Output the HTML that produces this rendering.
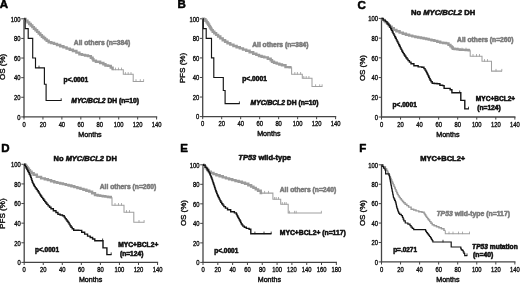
<!DOCTYPE html>
<html><head><meta charset="utf-8"><style>
html,body{margin:0;padding:0;background:#fff;}
body{width:520px;height:283px;overflow:hidden;}
svg{display:block;font-family:"Liberation Sans", sans-serif;filter:blur(0.4px);}
text{stroke-width:0.35px;stroke-linejoin:round;}
text[font-weight=bold]{stroke-width:0.55px;}
</style></head><body>
<svg width="520" height="283" viewBox="0 0 520 283">
<rect width="520" height="283" fill="#fff"/>
<text x="-0.3" y="8.4" font-size="11.5" font-weight="bold" fill="#000" stroke="#000">A</text>
<text x="177.4" y="8.3" font-size="11.5" font-weight="bold" fill="#000" stroke="#000">B</text>
<text x="357.5" y="8.6" font-size="11.5" font-weight="bold" fill="#000" stroke="#000">C</text>
<text x="1.2" y="151.6" font-size="11.5" font-weight="bold" fill="#000" stroke="#000">D</text>
<text x="180.3" y="151.6" font-size="11.5" font-weight="bold" fill="#000" stroke="#000">E</text>
<text x="359.3" y="151.8" font-size="11.5" font-weight="bold" fill="#000" stroke="#000">F</text>
<line x1="24.0" y1="18.400000000000002" x2="24.0" y2="117.5" stroke="#444" stroke-width="1.3"/>
<line x1="23.4" y1="116.9" x2="157.2" y2="116.9" stroke="#444" stroke-width="1.3"/>
<line x1="21.2" y1="116.90" x2="24.0" y2="116.90" stroke="#444" stroke-width="1"/>
<text x="20.60" y="119.65" text-anchor="end" font-size="6.5" fill="#111" stroke="#111" textLength="3.25" lengthAdjust="spacingAndGlyphs">0</text>
<line x1="21.2" y1="97.28" x2="24.0" y2="97.28" stroke="#444" stroke-width="1"/>
<text x="20.60" y="100.03" text-anchor="end" font-size="6.5" fill="#111" stroke="#111" textLength="6.50" lengthAdjust="spacingAndGlyphs">20</text>
<line x1="21.2" y1="77.66" x2="24.0" y2="77.66" stroke="#444" stroke-width="1"/>
<text x="20.60" y="80.41" text-anchor="end" font-size="6.5" fill="#111" stroke="#111" textLength="6.50" lengthAdjust="spacingAndGlyphs">40</text>
<line x1="21.2" y1="58.04" x2="24.0" y2="58.04" stroke="#444" stroke-width="1"/>
<text x="20.60" y="60.79" text-anchor="end" font-size="6.5" fill="#111" stroke="#111" textLength="6.50" lengthAdjust="spacingAndGlyphs">60</text>
<line x1="21.2" y1="38.42" x2="24.0" y2="38.42" stroke="#444" stroke-width="1"/>
<text x="20.60" y="41.17" text-anchor="end" font-size="6.5" fill="#111" stroke="#111" textLength="6.50" lengthAdjust="spacingAndGlyphs">80</text>
<line x1="21.2" y1="18.80" x2="24.0" y2="18.80" stroke="#444" stroke-width="1"/>
<text x="20.60" y="21.55" text-anchor="end" font-size="6.5" fill="#111" stroke="#111" textLength="9.75" lengthAdjust="spacingAndGlyphs">100</text>
<line x1="24.00" y1="116.9" x2="24.00" y2="119.5" stroke="#444" stroke-width="1"/>
<text x="24.00" y="126.60" text-anchor="middle" font-size="6.5" fill="#111" stroke="#111" textLength="3.25" lengthAdjust="spacingAndGlyphs">0</text>
<line x1="42.94" y1="116.9" x2="42.94" y2="119.5" stroke="#444" stroke-width="1"/>
<text x="42.94" y="126.60" text-anchor="middle" font-size="6.5" fill="#111" stroke="#111" textLength="6.50" lengthAdjust="spacingAndGlyphs">20</text>
<line x1="61.89" y1="116.9" x2="61.89" y2="119.5" stroke="#444" stroke-width="1"/>
<text x="61.89" y="126.60" text-anchor="middle" font-size="6.5" fill="#111" stroke="#111" textLength="6.50" lengthAdjust="spacingAndGlyphs">40</text>
<line x1="80.83" y1="116.9" x2="80.83" y2="119.5" stroke="#444" stroke-width="1"/>
<text x="80.83" y="126.60" text-anchor="middle" font-size="6.5" fill="#111" stroke="#111" textLength="6.50" lengthAdjust="spacingAndGlyphs">60</text>
<line x1="99.77" y1="116.9" x2="99.77" y2="119.5" stroke="#444" stroke-width="1"/>
<text x="99.77" y="126.60" text-anchor="middle" font-size="6.5" fill="#111" stroke="#111" textLength="6.50" lengthAdjust="spacingAndGlyphs">80</text>
<line x1="118.71" y1="116.9" x2="118.71" y2="119.5" stroke="#444" stroke-width="1"/>
<text x="118.71" y="126.60" text-anchor="middle" font-size="6.5" fill="#111" stroke="#111" textLength="9.75" lengthAdjust="spacingAndGlyphs">100</text>
<line x1="137.66" y1="116.9" x2="137.66" y2="119.5" stroke="#444" stroke-width="1"/>
<text x="137.66" y="126.60" text-anchor="middle" font-size="6.5" fill="#111" stroke="#111" textLength="9.75" lengthAdjust="spacingAndGlyphs">120</text>
<line x1="156.60" y1="116.9" x2="156.60" y2="119.5" stroke="#444" stroke-width="1"/>
<text x="156.60" y="126.60" text-anchor="middle" font-size="6.5" fill="#111" stroke="#111" textLength="9.75" lengthAdjust="spacingAndGlyphs">140</text>
<text x="90.00" y="136.70" text-anchor="middle" font-size="7.1" fill="#111" stroke="#111" style="stroke-width:0.42px">Months</text>
<text transform="translate(5.40,66.90) rotate(-90)" text-anchor="middle" font-size="7.4" style="stroke-width:0.38px" fill="#111" stroke="#111" textLength="26.0" lengthAdjust="spacingAndGlyphs">OS (%)</text>
<path d="M24.00,18.80H24.30V18.90H24.60H25.55V20.65H27.45V22.40H28.40H29.18V23.97H30.75V25.53H32.32V27.10H33.10H33.90V28.70H35.50V30.30H37.10V31.90H37.90H38.70V33.50H40.30V35.10H41.90V36.70H42.70H43.50V38.03H45.10V39.37H46.70V40.70H47.50H48.70V42.20H49.90H51.27V43.05H54.02V43.90H55.40H57.00V45.05H60.20V46.20H61.80H63.40V47.40H66.60V48.60H68.20H69.78V49.80H72.92V51.00H74.50H76.40V52.60H78.30H79.40V54.30H80.50H82.00V54.90H85.00V55.50H88.00V56.10H89.50H90.85V57.70H92.20H92.60V59.15H93.40V60.60H93.80H95.90V61.80H98.00H100.15V63.00H102.30H103.35V64.25H105.45V65.50H106.50H108.10V65.90H109.70H110.75V67.60H111.80H112.60V69.00H113.40" fill="none" stroke="#9b9b9b" stroke-width="2.4" stroke-linejoin="miter" stroke-linecap="butt"/><path d="M113.40,69.00V69.80H123.30V74.30H133.20V81.40H143.80" fill="none" stroke="#a0a0a0" stroke-width="1.05" stroke-linejoin="miter" stroke-linecap="butt"/>
<path d="M24.0,18.8 H25.2 V28.61 H28.2 V38.42 H32.7 V58.04 H35.5 V67.85 H44.4 V84.23 H46.1 V100.52 H61.5" fill="none" stroke="#141414" stroke-width="1.15" stroke-linejoin="miter" stroke-linecap="butt"/>
<line x1="115.50" y1="67.60" x2="115.50" y2="70.10" stroke="#9b9b9b" stroke-width="0.8"/><line x1="118.50" y1="67.60" x2="118.50" y2="70.10" stroke="#9b9b9b" stroke-width="0.8"/><line x1="121.50" y1="67.60" x2="121.50" y2="70.10" stroke="#9b9b9b" stroke-width="0.8"/>
<line x1="125.40" y1="72.10" x2="125.40" y2="74.60" stroke="#9b9b9b" stroke-width="0.8"/><line x1="128.20" y1="72.10" x2="128.20" y2="74.60" stroke="#9b9b9b" stroke-width="0.8"/><line x1="131.00" y1="72.10" x2="131.00" y2="74.60" stroke="#9b9b9b" stroke-width="0.8"/>
<line x1="136.00" y1="79.20" x2="136.00" y2="81.70" stroke="#9b9b9b" stroke-width="0.8"/><line x1="140.30" y1="79.20" x2="140.30" y2="81.70" stroke="#9b9b9b" stroke-width="0.8"/><line x1="143.60" y1="79.20" x2="143.60" y2="81.70" stroke="#9b9b9b" stroke-width="0.8"/>
<line x1="39.00" y1="65.65" x2="39.00" y2="68.15" stroke="#141414" stroke-width="0.8"/>
<line x1="61.20" y1="98.30" x2="61.20" y2="100.80" stroke="#141414" stroke-width="0.8"/>
<text x="73.80" y="44.65" font-size="6.8" font-weight="bold" fill="#7c7c7c" stroke="#7c7c7c" text-anchor="start" textLength="56.4" lengthAdjust="spacingAndGlyphs">All others (n=384)</text>
<text x="63.60" y="81.50" font-size="6.8" font-weight="bold" fill="#111" stroke="#111" text-anchor="start" textLength="24.6" lengthAdjust="spacingAndGlyphs">p&lt;.0001</text>
<text x="71.30" y="102.95" font-size="6.8" font-weight="bold" fill="#111" stroke="#111" text-anchor="start" textLength="67.6" lengthAdjust="spacingAndGlyphs"><tspan font-style="italic">MYC/BCL2</tspan> DH (n=10)</text>
<line x1="202.7" y1="18.400000000000002" x2="202.7" y2="117.19999999999999" stroke="#444" stroke-width="1.3"/>
<line x1="202.1" y1="116.6" x2="336.20000000000005" y2="116.6" stroke="#444" stroke-width="1.3"/>
<line x1="199.89999999999998" y1="116.60" x2="202.7" y2="116.60" stroke="#444" stroke-width="1"/>
<text x="199.30" y="119.35" text-anchor="end" font-size="6.5" fill="#111" stroke="#111" textLength="3.25" lengthAdjust="spacingAndGlyphs">0</text>
<line x1="199.89999999999998" y1="97.04" x2="202.7" y2="97.04" stroke="#444" stroke-width="1"/>
<text x="199.30" y="99.79" text-anchor="end" font-size="6.5" fill="#111" stroke="#111" textLength="6.50" lengthAdjust="spacingAndGlyphs">20</text>
<line x1="199.89999999999998" y1="77.48" x2="202.7" y2="77.48" stroke="#444" stroke-width="1"/>
<text x="199.30" y="80.23" text-anchor="end" font-size="6.5" fill="#111" stroke="#111" textLength="6.50" lengthAdjust="spacingAndGlyphs">40</text>
<line x1="199.89999999999998" y1="57.92" x2="202.7" y2="57.92" stroke="#444" stroke-width="1"/>
<text x="199.30" y="60.67" text-anchor="end" font-size="6.5" fill="#111" stroke="#111" textLength="6.50" lengthAdjust="spacingAndGlyphs">60</text>
<line x1="199.89999999999998" y1="38.36" x2="202.7" y2="38.36" stroke="#444" stroke-width="1"/>
<text x="199.30" y="41.11" text-anchor="end" font-size="6.5" fill="#111" stroke="#111" textLength="6.50" lengthAdjust="spacingAndGlyphs">80</text>
<line x1="199.89999999999998" y1="18.80" x2="202.7" y2="18.80" stroke="#444" stroke-width="1"/>
<text x="199.30" y="21.55" text-anchor="end" font-size="6.5" fill="#111" stroke="#111" textLength="9.75" lengthAdjust="spacingAndGlyphs">100</text>
<line x1="202.70" y1="116.6" x2="202.70" y2="119.19999999999999" stroke="#444" stroke-width="1"/>
<text x="202.70" y="126.30" text-anchor="middle" font-size="6.5" fill="#111" stroke="#111" textLength="3.25" lengthAdjust="spacingAndGlyphs">0</text>
<line x1="221.69" y1="116.6" x2="221.69" y2="119.19999999999999" stroke="#444" stroke-width="1"/>
<text x="221.69" y="126.30" text-anchor="middle" font-size="6.5" fill="#111" stroke="#111" textLength="6.50" lengthAdjust="spacingAndGlyphs">20</text>
<line x1="240.67" y1="116.6" x2="240.67" y2="119.19999999999999" stroke="#444" stroke-width="1"/>
<text x="240.67" y="126.30" text-anchor="middle" font-size="6.5" fill="#111" stroke="#111" textLength="6.50" lengthAdjust="spacingAndGlyphs">40</text>
<line x1="259.66" y1="116.6" x2="259.66" y2="119.19999999999999" stroke="#444" stroke-width="1"/>
<text x="259.66" y="126.30" text-anchor="middle" font-size="6.5" fill="#111" stroke="#111" textLength="6.50" lengthAdjust="spacingAndGlyphs">60</text>
<line x1="278.64" y1="116.6" x2="278.64" y2="119.19999999999999" stroke="#444" stroke-width="1"/>
<text x="278.64" y="126.30" text-anchor="middle" font-size="6.5" fill="#111" stroke="#111" textLength="6.50" lengthAdjust="spacingAndGlyphs">80</text>
<line x1="297.63" y1="116.6" x2="297.63" y2="119.19999999999999" stroke="#444" stroke-width="1"/>
<text x="297.63" y="126.30" text-anchor="middle" font-size="6.5" fill="#111" stroke="#111" textLength="9.75" lengthAdjust="spacingAndGlyphs">100</text>
<line x1="316.61" y1="116.6" x2="316.61" y2="119.19999999999999" stroke="#444" stroke-width="1"/>
<text x="316.61" y="126.30" text-anchor="middle" font-size="6.5" fill="#111" stroke="#111" textLength="9.75" lengthAdjust="spacingAndGlyphs">120</text>
<line x1="335.60" y1="116.6" x2="335.60" y2="119.19999999999999" stroke="#444" stroke-width="1"/>
<text x="335.60" y="126.30" text-anchor="middle" font-size="6.5" fill="#111" stroke="#111" textLength="9.75" lengthAdjust="spacingAndGlyphs">140</text>
<text x="268.85" y="136.40" text-anchor="middle" font-size="7.1" fill="#111" stroke="#111" style="stroke-width:0.42px">Months</text>
<text transform="translate(185.30,68.05) rotate(-90)" text-anchor="middle" font-size="7.4" style="stroke-width:0.38px" fill="#111" stroke="#111" textLength="30.6" lengthAdjust="spacingAndGlyphs">PFS (%)</text>
<path d="M202.70,18.80H202.95V18.60H203.20H204.00V19.30H204.80H205.40V20.75H206.60V22.20H207.20H207.60V23.50H208.40V24.80H209.20V26.10H209.60H209.98V27.43H210.75V28.77H211.52V30.10H211.90H212.70V31.70H214.30V33.30H215.10H216.10V34.90H218.10V36.50H219.10H220.30V38.35H222.70V40.20H223.90H225.10V41.75H227.50V43.30H228.70H230.27V44.65H233.43V46.00H235.00H236.60V47.20H239.80V48.40H241.40H243.00V49.60H246.20V50.80H247.80H249.60V52.30H253.20V53.80H255.00H256.32V54.90H258.98V56.00H260.30H261.62V56.70H264.28V57.40H265.60H267.80V58.80H270.00H270.68V60.30H272.02V61.80H272.70H274.02V62.70H276.68V63.60H278.00H279.32V64.45H281.98V65.30H283.30H285.50V67.10H287.70H289.65V67.30H291.60" fill="none" stroke="#9b9b9b" stroke-width="2.4" stroke-linejoin="miter" stroke-linecap="butt"/><path d="M291.60,67.30V74.20H302.30V78.20H312.00V86.50H322.30" fill="none" stroke="#a0a0a0" stroke-width="1.05" stroke-linejoin="miter" stroke-linecap="butt"/>
<path d="M202.7,18.8 H203.3 V28.58 H206.2 V38.36 H211.5 V57.92 H213.8 V77.48 H223.3 V90.49 H225.1 V103.59 H239.7" fill="none" stroke="#141414" stroke-width="1.15" stroke-linejoin="miter" stroke-linecap="butt"/>
<line x1="294.80" y1="72.00" x2="294.80" y2="74.50" stroke="#9b9b9b" stroke-width="0.8"/><line x1="297.40" y1="72.00" x2="297.40" y2="74.50" stroke="#9b9b9b" stroke-width="0.8"/><line x1="300.60" y1="72.00" x2="300.60" y2="74.50" stroke="#9b9b9b" stroke-width="0.8"/>
<line x1="303.80" y1="76.00" x2="303.80" y2="78.50" stroke="#9b9b9b" stroke-width="0.8"/><line x1="306.20" y1="76.00" x2="306.20" y2="78.50" stroke="#9b9b9b" stroke-width="0.8"/><line x1="308.90" y1="76.00" x2="308.90" y2="78.50" stroke="#9b9b9b" stroke-width="0.8"/>
<line x1="315.60" y1="84.30" x2="315.60" y2="86.80" stroke="#9b9b9b" stroke-width="0.8"/><line x1="319.70" y1="84.30" x2="319.70" y2="86.80" stroke="#9b9b9b" stroke-width="0.8"/><line x1="322.10" y1="84.30" x2="322.10" y2="86.80" stroke="#9b9b9b" stroke-width="0.8"/>
<line x1="239.40" y1="101.40" x2="239.40" y2="103.90" stroke="#141414" stroke-width="0.8"/>
<text x="252.20" y="46.95" font-size="6.8" font-weight="bold" fill="#7c7c7c" stroke="#7c7c7c" text-anchor="start" textLength="56.4" lengthAdjust="spacingAndGlyphs">All others (n=384)</text>
<text x="242.30" y="81.25" font-size="6.8" font-weight="bold" fill="#111" stroke="#111" text-anchor="start" textLength="24.6" lengthAdjust="spacingAndGlyphs">p&lt;.0001</text>
<text x="250.60" y="105.05" font-size="6.8" font-weight="bold" fill="#111" stroke="#111" text-anchor="start" textLength="67.8" lengthAdjust="spacingAndGlyphs"><tspan font-style="italic">MYC/BCL2</tspan> DH (n=10)</text>
<line x1="381.5" y1="18.0" x2="381.5" y2="117.6" stroke="#444" stroke-width="1.3"/>
<line x1="380.9" y1="117.0" x2="515.45" y2="117.0" stroke="#444" stroke-width="1.3"/>
<line x1="378.7" y1="117.00" x2="381.5" y2="117.00" stroke="#444" stroke-width="1"/>
<text x="378.10" y="119.75" text-anchor="end" font-size="6.5" fill="#111" stroke="#111" textLength="3.25" lengthAdjust="spacingAndGlyphs">0</text>
<line x1="378.7" y1="97.28" x2="381.5" y2="97.28" stroke="#444" stroke-width="1"/>
<text x="378.10" y="100.03" text-anchor="end" font-size="6.5" fill="#111" stroke="#111" textLength="6.50" lengthAdjust="spacingAndGlyphs">20</text>
<line x1="378.7" y1="77.56" x2="381.5" y2="77.56" stroke="#444" stroke-width="1"/>
<text x="378.10" y="80.31" text-anchor="end" font-size="6.5" fill="#111" stroke="#111" textLength="6.50" lengthAdjust="spacingAndGlyphs">40</text>
<line x1="378.7" y1="57.84" x2="381.5" y2="57.84" stroke="#444" stroke-width="1"/>
<text x="378.10" y="60.59" text-anchor="end" font-size="6.5" fill="#111" stroke="#111" textLength="6.50" lengthAdjust="spacingAndGlyphs">60</text>
<line x1="378.7" y1="38.12" x2="381.5" y2="38.12" stroke="#444" stroke-width="1"/>
<text x="378.10" y="40.87" text-anchor="end" font-size="6.5" fill="#111" stroke="#111" textLength="6.50" lengthAdjust="spacingAndGlyphs">80</text>
<line x1="378.7" y1="18.40" x2="381.5" y2="18.40" stroke="#444" stroke-width="1"/>
<text x="378.10" y="21.15" text-anchor="end" font-size="6.5" fill="#111" stroke="#111" textLength="9.75" lengthAdjust="spacingAndGlyphs">100</text>
<line x1="381.50" y1="117.0" x2="381.50" y2="119.6" stroke="#444" stroke-width="1"/>
<text x="381.50" y="126.70" text-anchor="middle" font-size="6.5" fill="#111" stroke="#111" textLength="3.25" lengthAdjust="spacingAndGlyphs">0</text>
<line x1="400.55" y1="117.0" x2="400.55" y2="119.6" stroke="#444" stroke-width="1"/>
<text x="400.55" y="126.70" text-anchor="middle" font-size="6.5" fill="#111" stroke="#111" textLength="6.50" lengthAdjust="spacingAndGlyphs">20</text>
<line x1="419.60" y1="117.0" x2="419.60" y2="119.6" stroke="#444" stroke-width="1"/>
<text x="419.60" y="126.70" text-anchor="middle" font-size="6.5" fill="#111" stroke="#111" textLength="6.50" lengthAdjust="spacingAndGlyphs">40</text>
<line x1="438.65" y1="117.0" x2="438.65" y2="119.6" stroke="#444" stroke-width="1"/>
<text x="438.65" y="126.70" text-anchor="middle" font-size="6.5" fill="#111" stroke="#111" textLength="6.50" lengthAdjust="spacingAndGlyphs">60</text>
<line x1="457.70" y1="117.0" x2="457.70" y2="119.6" stroke="#444" stroke-width="1"/>
<text x="457.70" y="126.70" text-anchor="middle" font-size="6.5" fill="#111" stroke="#111" textLength="6.50" lengthAdjust="spacingAndGlyphs">80</text>
<line x1="476.75" y1="117.0" x2="476.75" y2="119.6" stroke="#444" stroke-width="1"/>
<text x="476.75" y="126.70" text-anchor="middle" font-size="6.5" fill="#111" stroke="#111" textLength="9.75" lengthAdjust="spacingAndGlyphs">100</text>
<line x1="495.80" y1="117.0" x2="495.80" y2="119.6" stroke="#444" stroke-width="1"/>
<text x="495.80" y="126.70" text-anchor="middle" font-size="6.5" fill="#111" stroke="#111" textLength="9.75" lengthAdjust="spacingAndGlyphs">120</text>
<line x1="514.85" y1="117.0" x2="514.85" y2="119.6" stroke="#444" stroke-width="1"/>
<text x="514.85" y="126.70" text-anchor="middle" font-size="6.5" fill="#111" stroke="#111" textLength="9.75" lengthAdjust="spacingAndGlyphs">140</text>
<text x="447.88" y="136.80" text-anchor="middle" font-size="7.1" fill="#111" stroke="#111" style="stroke-width:0.42px">Months</text>
<text transform="translate(365.40,68.05) rotate(-90)" text-anchor="middle" font-size="7.4" style="stroke-width:0.38px" fill="#111" stroke="#111" textLength="26.0" lengthAdjust="spacingAndGlyphs">OS (%)</text>
<text x="443.10" y="14.89" font-size="7.6" font-weight="bold" fill="#111" stroke="#111" text-anchor="middle" textLength="64.2" lengthAdjust="spacingAndGlyphs">No <tspan font-style="italic">MYC/BCL2</tspan> DH</text>
<path d="M381.50,18.40H381.80V18.60H382.10H382.82V19.87H384.25V21.13H385.68V22.40H386.40H387.10V23.83H388.50V25.27H389.90V26.70H390.60H391.65V28.30H393.75V29.90H394.80H396.40V31.25H399.60V32.60H401.20H402.77V33.70H405.93V34.80H407.50H409.10V35.60H412.30V36.40H413.90H415.32V36.93H418.15V37.47H420.98V38.00H422.40H423.67V38.53H426.20V39.07H428.73V39.60H430.00H431.45V40.25H434.35V40.90H435.80H437.27V41.75H440.23V42.60H441.70H443.15V43.00H446.05V43.40H447.50H448.48V44.90H450.42V46.40H451.40H451.88V47.55H452.82V48.70H453.30H454.60V49.03H457.20V49.37H459.80V49.70H461.10H462.62V49.87H465.65V50.03H468.68V50.20H470.20" fill="none" stroke="#9b9b9b" stroke-width="2.4" stroke-linejoin="miter" stroke-linecap="butt"/><path d="M470.20,50.20V56.20H482.00V61.30H491.50V71.10H502.00" fill="none" stroke="#a0a0a0" stroke-width="1.05" stroke-linejoin="miter" stroke-linecap="butt"/>
<path d="M381.50,18.40H381.80V18.60H382.10H383.18V20.10H385.32V21.60H386.40H386.92V22.93H387.95V24.27H388.98V25.60H389.50H389.90V27.20H390.70V28.80H391.50V30.40H392.30V32.00H392.70H393.10V33.58H393.90V35.15H394.70V36.72H395.50V38.30H395.90H396.30V39.90H397.10V41.50H397.90V43.10H398.70V44.70H399.10H399.49V46.28H400.26V47.85H401.04V49.42H401.81V51.00H402.20H402.60V52.33H403.40V53.65H404.20V54.97H405.00V56.30H405.40H405.93V57.73H407.00V59.17H408.07V60.60H408.60H409.40V62.15H411.00V63.70H411.80H413.90V65.80H416.00H418.15V66.90H420.30H421.85V67.20H423.40H423.95V68.65H425.05V70.10H425.60H425.95V71.50H426.65V72.90H427.35V74.30H427.70H428.05V75.78H428.75V77.25H429.45V78.72H430.15V80.20H430.50H431.07V81.70H432.23V83.20H432.80H434.23V83.50H437.07V83.80H438.50H439.90V85.20H441.30H442.70V85.60H444.10V88.40H448.40H450.15V89.80H451.90V92.70H460.80V100.40H464.80V108.90H468.80" fill="none" stroke="#141414" stroke-width="1.4" stroke-linejoin="miter" stroke-linecap="butt"/>
<line x1="458.00" y1="47.70" x2="458.00" y2="50.20" stroke="#9b9b9b" stroke-width="0.8"/><line x1="462.00" y1="47.70" x2="462.00" y2="50.20" stroke="#9b9b9b" stroke-width="0.8"/><line x1="466.00" y1="47.70" x2="466.00" y2="50.20" stroke="#9b9b9b" stroke-width="0.8"/>
<line x1="473.00" y1="54.00" x2="473.00" y2="56.50" stroke="#9b9b9b" stroke-width="0.8"/><line x1="476.50" y1="54.00" x2="476.50" y2="56.50" stroke="#9b9b9b" stroke-width="0.8"/><line x1="479.50" y1="54.00" x2="479.50" y2="56.50" stroke="#9b9b9b" stroke-width="0.8"/>
<line x1="484.50" y1="59.10" x2="484.50" y2="61.60" stroke="#9b9b9b" stroke-width="0.8"/><line x1="487.50" y1="59.10" x2="487.50" y2="61.60" stroke="#9b9b9b" stroke-width="0.8"/>
<line x1="496.00" y1="68.90" x2="496.00" y2="71.40" stroke="#9b9b9b" stroke-width="0.8"/><line x1="501.80" y1="68.90" x2="501.80" y2="71.40" stroke="#9b9b9b" stroke-width="0.8"/>
<line x1="459.70" y1="90.50" x2="459.70" y2="93.00" stroke="#141414" stroke-width="0.8"/>
<line x1="468.50" y1="106.70" x2="468.50" y2="109.20" stroke="#141414" stroke-width="0.8"/>
<text x="457.10" y="41.75" font-size="6.8" font-weight="bold" fill="#7c7c7c" stroke="#7c7c7c" text-anchor="start" textLength="56.4" lengthAdjust="spacingAndGlyphs">All others (n=260)</text>
<text x="392.60" y="106.95" font-size="6.8" font-weight="bold" fill="#111" stroke="#111" text-anchor="start" textLength="24.2" lengthAdjust="spacingAndGlyphs">p&lt;.0001</text>
<text x="475.80" y="101.45" font-size="6.8" font-weight="bold" fill="#111" stroke="#111" text-anchor="start" textLength="39.4" lengthAdjust="spacingAndGlyphs">MYC+BCL2+</text>
<text x="477.20" y="110.05" font-size="6.8" font-weight="bold" fill="#111" stroke="#111" text-anchor="start" textLength="23.6" lengthAdjust="spacingAndGlyphs">(n=124)</text>
<line x1="24.2" y1="163.9" x2="24.2" y2="263.0" stroke="#444" stroke-width="1.3"/>
<line x1="23.599999999999998" y1="262.4" x2="158.14999999999998" y2="262.4" stroke="#444" stroke-width="1.3"/>
<line x1="21.4" y1="262.40" x2="24.2" y2="262.40" stroke="#444" stroke-width="1"/>
<text x="20.80" y="265.15" text-anchor="end" font-size="6.5" fill="#111" stroke="#111" textLength="3.25" lengthAdjust="spacingAndGlyphs">0</text>
<line x1="21.4" y1="242.78" x2="24.2" y2="242.78" stroke="#444" stroke-width="1"/>
<text x="20.80" y="245.53" text-anchor="end" font-size="6.5" fill="#111" stroke="#111" textLength="6.50" lengthAdjust="spacingAndGlyphs">20</text>
<line x1="21.4" y1="223.16" x2="24.2" y2="223.16" stroke="#444" stroke-width="1"/>
<text x="20.80" y="225.91" text-anchor="end" font-size="6.5" fill="#111" stroke="#111" textLength="6.50" lengthAdjust="spacingAndGlyphs">40</text>
<line x1="21.4" y1="203.54" x2="24.2" y2="203.54" stroke="#444" stroke-width="1"/>
<text x="20.80" y="206.29" text-anchor="end" font-size="6.5" fill="#111" stroke="#111" textLength="6.50" lengthAdjust="spacingAndGlyphs">60</text>
<line x1="21.4" y1="183.92" x2="24.2" y2="183.92" stroke="#444" stroke-width="1"/>
<text x="20.80" y="186.67" text-anchor="end" font-size="6.5" fill="#111" stroke="#111" textLength="6.50" lengthAdjust="spacingAndGlyphs">80</text>
<line x1="21.4" y1="164.30" x2="24.2" y2="164.30" stroke="#444" stroke-width="1"/>
<text x="20.80" y="167.05" text-anchor="end" font-size="6.5" fill="#111" stroke="#111" textLength="9.75" lengthAdjust="spacingAndGlyphs">100</text>
<line x1="24.20" y1="262.4" x2="24.20" y2="265.0" stroke="#444" stroke-width="1"/>
<text x="24.20" y="272.10" text-anchor="middle" font-size="6.5" fill="#111" stroke="#111" textLength="3.25" lengthAdjust="spacingAndGlyphs">0</text>
<line x1="43.25" y1="262.4" x2="43.25" y2="265.0" stroke="#444" stroke-width="1"/>
<text x="43.25" y="272.10" text-anchor="middle" font-size="6.5" fill="#111" stroke="#111" textLength="6.50" lengthAdjust="spacingAndGlyphs">20</text>
<line x1="62.30" y1="262.4" x2="62.30" y2="265.0" stroke="#444" stroke-width="1"/>
<text x="62.30" y="272.10" text-anchor="middle" font-size="6.5" fill="#111" stroke="#111" textLength="6.50" lengthAdjust="spacingAndGlyphs">40</text>
<line x1="81.35" y1="262.4" x2="81.35" y2="265.0" stroke="#444" stroke-width="1"/>
<text x="81.35" y="272.10" text-anchor="middle" font-size="6.5" fill="#111" stroke="#111" textLength="6.50" lengthAdjust="spacingAndGlyphs">60</text>
<line x1="100.40" y1="262.4" x2="100.40" y2="265.0" stroke="#444" stroke-width="1"/>
<text x="100.40" y="272.10" text-anchor="middle" font-size="6.5" fill="#111" stroke="#111" textLength="6.50" lengthAdjust="spacingAndGlyphs">80</text>
<line x1="119.45" y1="262.4" x2="119.45" y2="265.0" stroke="#444" stroke-width="1"/>
<text x="119.45" y="272.10" text-anchor="middle" font-size="6.5" fill="#111" stroke="#111" textLength="9.75" lengthAdjust="spacingAndGlyphs">100</text>
<line x1="138.50" y1="262.4" x2="138.50" y2="265.0" stroke="#444" stroke-width="1"/>
<text x="138.50" y="272.10" text-anchor="middle" font-size="6.5" fill="#111" stroke="#111" textLength="9.75" lengthAdjust="spacingAndGlyphs">120</text>
<line x1="157.55" y1="262.4" x2="157.55" y2="265.0" stroke="#444" stroke-width="1"/>
<text x="157.55" y="272.10" text-anchor="middle" font-size="6.5" fill="#111" stroke="#111" textLength="9.75" lengthAdjust="spacingAndGlyphs">140</text>
<text x="90.58" y="282.20" text-anchor="middle" font-size="7.1" fill="#111" stroke="#111" style="stroke-width:0.42px">Months</text>
<text transform="translate(5.30,213.60) rotate(-90)" text-anchor="middle" font-size="7.4" style="stroke-width:0.38px" fill="#111" stroke="#111" textLength="30.6" lengthAdjust="spacingAndGlyphs">PFS (%)</text>
<text x="85.20" y="161.09" font-size="7.6" font-weight="bold" fill="#111" stroke="#111" text-anchor="middle" textLength="63.2" lengthAdjust="spacingAndGlyphs">No <tspan font-style="italic">MYC/BCL2</tspan> DH</text>
<path d="M24.20,164.30H24.60V164.60H25.00H25.57V166.00H26.73V167.40H27.30H27.83V168.80H28.90V170.20H29.97V171.60H30.50H31.55V173.20H33.65V174.80H34.70H36.85V176.90H39.00H41.10V178.40H43.20H44.78V179.25H47.92V180.10H49.50H51.10V181.20H54.30V182.30H55.90H57.32V182.90H60.15V183.50H62.98V184.10H64.40H65.80V184.83H68.60V185.57H71.40V186.30H72.80H74.33V187.17H77.40V188.03H80.47V188.90H82.00H83.45V189.80H86.35V190.70H89.25V191.60H90.70H92.12V193.30H94.98V195.00H96.40H97.67V195.43H100.20V195.87H102.73V196.30H104.00H105.33V196.63H108.00V196.97H110.67V197.30H112.00" fill="none" stroke="#9b9b9b" stroke-width="2.4" stroke-linejoin="miter" stroke-linecap="butt"/><path d="M112.00,197.30V205.20H124.00V212.30H133.80V222.20H144.40" fill="none" stroke="#a0a0a0" stroke-width="1.05" stroke-linejoin="miter" stroke-linecap="butt"/>
<path d="M24.20,164.30H24.60V165.20H25.00H25.38V166.63H26.15V168.07H26.92V169.50H27.30H27.70V171.07H28.50V172.65H29.30V174.23H30.10V175.80H30.50H30.76V177.40H31.29V179.00H31.81V180.60H32.34V182.20H32.60H32.95V183.60H33.65V185.00H34.35V186.40H34.70H35.23V187.83H36.30V189.27H37.37V190.70H37.90H38.30V192.02H39.10V193.35H39.90V194.68H40.70V196.00H41.10H41.62V197.40H42.65V198.80H43.68V200.20H44.20H44.73V201.60H45.80V203.00H46.87V204.40H47.40H48.12V205.83H49.55V207.27H50.98V208.70H51.70H53.35V210.80H55.00H55.98V212.55H57.92V214.30H58.90H60.10V215.00H62.50V215.70H63.70H64.20V217.15H65.20V218.60H65.70H66.18V219.90H67.15V221.20H68.12V222.50H68.60H69.08V224.10H70.05V225.70H71.02V227.30H71.50H72.22V228.75H73.68V230.20H74.40H75.85V230.30H78.75V230.40H80.20H81.70V232.20H83.20H84.65V234.10H86.10H87.55V236.10H89.00H90.20V237.55H92.60V239.00H93.80H94.80V240.70H95.80H103.00V247.90H106.90V254.60H111.50" fill="none" stroke="#141414" stroke-width="1.4" stroke-linejoin="miter" stroke-linecap="butt"/>
<line x1="115.00" y1="203.00" x2="115.00" y2="205.50" stroke="#9b9b9b" stroke-width="0.8"/><line x1="118.50" y1="203.00" x2="118.50" y2="205.50" stroke="#9b9b9b" stroke-width="0.8"/><line x1="121.50" y1="203.00" x2="121.50" y2="205.50" stroke="#9b9b9b" stroke-width="0.8"/>
<line x1="126.50" y1="210.10" x2="126.50" y2="212.60" stroke="#9b9b9b" stroke-width="0.8"/><line x1="129.50" y1="210.10" x2="129.50" y2="212.60" stroke="#9b9b9b" stroke-width="0.8"/>
<line x1="139.00" y1="220.00" x2="139.00" y2="222.50" stroke="#9b9b9b" stroke-width="0.8"/><line x1="144.10" y1="220.00" x2="144.10" y2="222.50" stroke="#9b9b9b" stroke-width="0.8"/>
<line x1="102.60" y1="238.50" x2="102.60" y2="241.00" stroke="#141414" stroke-width="0.8"/>
<line x1="111.20" y1="252.40" x2="111.20" y2="254.90" stroke="#141414" stroke-width="0.8"/>
<text x="99.70" y="188.55" font-size="6.8" font-weight="bold" fill="#7c7c7c" stroke="#7c7c7c" text-anchor="start" textLength="56.6" lengthAdjust="spacingAndGlyphs">All others (n=260)</text>
<text x="35.00" y="251.85" font-size="6.8" font-weight="bold" fill="#111" stroke="#111" text-anchor="start" textLength="24.0" lengthAdjust="spacingAndGlyphs">p&lt;.0001</text>
<text x="118.30" y="247.45" font-size="6.8" font-weight="bold" fill="#111" stroke="#111" text-anchor="start" textLength="40.0" lengthAdjust="spacingAndGlyphs">MYC+BCL2+</text>
<text x="120.00" y="255.85" font-size="6.8" font-weight="bold" fill="#111" stroke="#111" text-anchor="start" textLength="23.4" lengthAdjust="spacingAndGlyphs">(n=124)</text>
<line x1="203.0" y1="164.4" x2="203.0" y2="263.0" stroke="#444" stroke-width="1.3"/>
<line x1="202.4" y1="262.4" x2="336.95000000000005" y2="262.4" stroke="#444" stroke-width="1.3"/>
<line x1="200.2" y1="262.40" x2="203.0" y2="262.40" stroke="#444" stroke-width="1"/>
<text x="199.60" y="265.15" text-anchor="end" font-size="6.5" fill="#111" stroke="#111" textLength="3.25" lengthAdjust="spacingAndGlyphs">0</text>
<line x1="200.2" y1="242.88" x2="203.0" y2="242.88" stroke="#444" stroke-width="1"/>
<text x="199.60" y="245.63" text-anchor="end" font-size="6.5" fill="#111" stroke="#111" textLength="6.50" lengthAdjust="spacingAndGlyphs">20</text>
<line x1="200.2" y1="223.36" x2="203.0" y2="223.36" stroke="#444" stroke-width="1"/>
<text x="199.60" y="226.11" text-anchor="end" font-size="6.5" fill="#111" stroke="#111" textLength="6.50" lengthAdjust="spacingAndGlyphs">40</text>
<line x1="200.2" y1="203.84" x2="203.0" y2="203.84" stroke="#444" stroke-width="1"/>
<text x="199.60" y="206.59" text-anchor="end" font-size="6.5" fill="#111" stroke="#111" textLength="6.50" lengthAdjust="spacingAndGlyphs">60</text>
<line x1="200.2" y1="184.32" x2="203.0" y2="184.32" stroke="#444" stroke-width="1"/>
<text x="199.60" y="187.07" text-anchor="end" font-size="6.5" fill="#111" stroke="#111" textLength="6.50" lengthAdjust="spacingAndGlyphs">80</text>
<line x1="200.2" y1="164.80" x2="203.0" y2="164.80" stroke="#444" stroke-width="1"/>
<text x="199.60" y="167.55" text-anchor="end" font-size="6.5" fill="#111" stroke="#111" textLength="9.75" lengthAdjust="spacingAndGlyphs">100</text>
<line x1="203.00" y1="262.4" x2="203.00" y2="265.0" stroke="#444" stroke-width="1"/>
<text x="203.00" y="272.10" text-anchor="middle" font-size="6.5" fill="#111" stroke="#111" textLength="3.25" lengthAdjust="spacingAndGlyphs">0</text>
<line x1="217.82" y1="262.4" x2="217.82" y2="265.0" stroke="#444" stroke-width="1"/>
<text x="217.82" y="272.10" text-anchor="middle" font-size="6.5" fill="#111" stroke="#111" textLength="6.50" lengthAdjust="spacingAndGlyphs">20</text>
<line x1="232.63" y1="262.4" x2="232.63" y2="265.0" stroke="#444" stroke-width="1"/>
<text x="232.63" y="272.10" text-anchor="middle" font-size="6.5" fill="#111" stroke="#111" textLength="6.50" lengthAdjust="spacingAndGlyphs">40</text>
<line x1="247.45" y1="262.4" x2="247.45" y2="265.0" stroke="#444" stroke-width="1"/>
<text x="247.45" y="272.10" text-anchor="middle" font-size="6.5" fill="#111" stroke="#111" textLength="6.50" lengthAdjust="spacingAndGlyphs">60</text>
<line x1="262.27" y1="262.4" x2="262.27" y2="265.0" stroke="#444" stroke-width="1"/>
<text x="262.27" y="272.10" text-anchor="middle" font-size="6.5" fill="#111" stroke="#111" textLength="6.50" lengthAdjust="spacingAndGlyphs">80</text>
<line x1="277.08" y1="262.4" x2="277.08" y2="265.0" stroke="#444" stroke-width="1"/>
<text x="277.08" y="272.10" text-anchor="middle" font-size="6.5" fill="#111" stroke="#111" textLength="9.75" lengthAdjust="spacingAndGlyphs">100</text>
<line x1="291.90" y1="262.4" x2="291.90" y2="265.0" stroke="#444" stroke-width="1"/>
<text x="291.90" y="272.10" text-anchor="middle" font-size="6.5" fill="#111" stroke="#111" textLength="9.75" lengthAdjust="spacingAndGlyphs">120</text>
<line x1="306.72" y1="262.4" x2="306.72" y2="265.0" stroke="#444" stroke-width="1"/>
<text x="306.72" y="272.10" text-anchor="middle" font-size="6.5" fill="#111" stroke="#111" textLength="9.75" lengthAdjust="spacingAndGlyphs">140</text>
<line x1="321.53" y1="262.4" x2="321.53" y2="265.0" stroke="#444" stroke-width="1"/>
<text x="321.53" y="272.10" text-anchor="middle" font-size="6.5" fill="#111" stroke="#111" textLength="9.75" lengthAdjust="spacingAndGlyphs">160</text>
<line x1="336.35" y1="262.4" x2="336.35" y2="265.0" stroke="#444" stroke-width="1"/>
<text x="336.35" y="272.10" text-anchor="middle" font-size="6.5" fill="#111" stroke="#111" textLength="9.75" lengthAdjust="spacingAndGlyphs">180</text>
<text x="269.38" y="282.20" text-anchor="middle" font-size="7.1" fill="#111" stroke="#111" style="stroke-width:0.42px">Months</text>
<text transform="translate(185.80,213.05) rotate(-90)" text-anchor="middle" font-size="7.4" style="stroke-width:0.38px" fill="#111" stroke="#111" textLength="26.0" lengthAdjust="spacingAndGlyphs">OS (%)</text>
<text x="264.65" y="160.44" font-size="7.6" font-weight="bold" fill="#111" stroke="#111" text-anchor="middle" textLength="52.6" lengthAdjust="spacingAndGlyphs"><tspan font-style="italic">TP53</tspan> wild-type</text>
<path d="M203.00,164.80H203.50V165.20H204.00H204.60V166.80H205.80V168.40H206.40H207.18V170.00H208.72V171.60H209.50H210.82V172.85H213.48V174.10H214.80H216.40V175.20H219.60V176.30H221.20H222.77V177.35H225.93V178.40H227.50H229.10V179.25H232.30V180.10H233.90H235.50V180.95H238.70V181.80H240.30H241.88V182.80H245.03V183.80H246.60H248.30V185.30H250.00H251.15V186.60H253.45V187.90H254.60H255.75V189.35H258.05V190.80H259.20H260.75V193.00H262.30" fill="none" stroke="#9b9b9b" stroke-width="2.4" stroke-linejoin="miter" stroke-linecap="butt"/><path d="M262.30,193.00V193.10H272.90V199.20H280.70V204.30H288.20V213.00H321.60" fill="none" stroke="#a0a0a0" stroke-width="1.05" stroke-linejoin="miter" stroke-linecap="butt"/>
<path d="M203.00,164.80H203.50V165.20H204.00H205.20V167.40H206.40H206.79V168.72H207.56V170.05H208.34V171.38H209.11V172.70H209.50H209.78V174.02H210.32V175.35H210.88V176.68H211.42V178.00H211.70H211.96V179.57H212.49V181.15H213.01V182.73H213.54V184.30H213.80H214.06V185.90H214.59V187.50H215.11V189.10H215.64V190.70H215.90H216.16V192.02H216.69V193.35H217.21V194.68H217.74V196.00H218.00H218.40V197.57H219.20V199.15H220.00V200.73H220.80V202.30H221.20H221.73V203.73H222.80V205.17H223.87V206.60H224.40H225.45V208.15H227.55V209.70H228.60H230.70V211.80H232.80H234.40V212.90H236.00H236.35V214.30H237.05V215.70H237.75V217.10H238.10H238.47V218.40H239.20V219.70H239.93V221.00H240.30H240.60V222.35H241.20V223.70H241.50H241.95V224.90H242.85V226.10H243.30H244.30V227.25H246.30V228.40H247.30H249.05V229.20H250.80V233.80H271.40" fill="none" stroke="#141414" stroke-width="1.4" stroke-linejoin="miter" stroke-linecap="butt"/>
<line x1="264.60" y1="190.90" x2="264.60" y2="193.40" stroke="#9b9b9b" stroke-width="0.8"/><line x1="268.50" y1="190.90" x2="268.50" y2="193.40" stroke="#9b9b9b" stroke-width="0.8"/>
<line x1="274.60" y1="197.00" x2="274.60" y2="199.50" stroke="#9b9b9b" stroke-width="0.8"/><line x1="276.20" y1="197.00" x2="276.20" y2="199.50" stroke="#9b9b9b" stroke-width="0.8"/><line x1="278.50" y1="197.00" x2="278.50" y2="199.50" stroke="#9b9b9b" stroke-width="0.8"/>
<line x1="282.30" y1="202.10" x2="282.30" y2="204.60" stroke="#9b9b9b" stroke-width="0.8"/><line x1="284.60" y1="202.10" x2="284.60" y2="204.60" stroke="#9b9b9b" stroke-width="0.8"/><line x1="286.20" y1="202.10" x2="286.20" y2="204.60" stroke="#9b9b9b" stroke-width="0.8"/>
<line x1="289.40" y1="210.80" x2="289.40" y2="213.30" stroke="#9b9b9b" stroke-width="0.8"/><line x1="294.60" y1="210.80" x2="294.60" y2="213.30" stroke="#9b9b9b" stroke-width="0.8"/><line x1="296.20" y1="210.80" x2="296.20" y2="213.30" stroke="#9b9b9b" stroke-width="0.8"/><line x1="321.40" y1="210.80" x2="321.40" y2="213.30" stroke="#9b9b9b" stroke-width="0.8"/>
<line x1="254.90" y1="231.60" x2="254.90" y2="234.10" stroke="#141414" stroke-width="0.8"/><line x1="264.00" y1="231.60" x2="264.00" y2="234.10" stroke="#141414" stroke-width="0.8"/><line x1="271.20" y1="231.60" x2="271.20" y2="234.10" stroke="#141414" stroke-width="0.8"/>
<text x="279.70" y="191.55" font-size="6.8" font-weight="bold" fill="#7c7c7c" stroke="#7c7c7c" text-anchor="start" textLength="56.6" lengthAdjust="spacingAndGlyphs">All others (n=240)</text>
<text x="214.30" y="252.55" font-size="6.8" font-weight="bold" fill="#111" stroke="#111" text-anchor="start" textLength="24.0" lengthAdjust="spacingAndGlyphs">p&lt;.0001</text>
<text x="279.80" y="234.80" font-size="6.8" font-weight="bold" fill="#111" stroke="#111" text-anchor="start" textLength="66.0" lengthAdjust="spacingAndGlyphs">MYC+BCL2+ (n=117)</text>
<line x1="381.5" y1="164.4" x2="381.5" y2="262.5" stroke="#444" stroke-width="1.3"/>
<line x1="380.9" y1="261.9" x2="515.45" y2="261.9" stroke="#444" stroke-width="1.3"/>
<line x1="378.7" y1="261.90" x2="381.5" y2="261.90" stroke="#444" stroke-width="1"/>
<text x="378.10" y="264.65" text-anchor="end" font-size="6.5" fill="#111" stroke="#111" textLength="3.25" lengthAdjust="spacingAndGlyphs">0</text>
<line x1="378.7" y1="242.48" x2="381.5" y2="242.48" stroke="#444" stroke-width="1"/>
<text x="378.10" y="245.23" text-anchor="end" font-size="6.5" fill="#111" stroke="#111" textLength="6.50" lengthAdjust="spacingAndGlyphs">20</text>
<line x1="378.7" y1="223.06" x2="381.5" y2="223.06" stroke="#444" stroke-width="1"/>
<text x="378.10" y="225.81" text-anchor="end" font-size="6.5" fill="#111" stroke="#111" textLength="6.50" lengthAdjust="spacingAndGlyphs">40</text>
<line x1="378.7" y1="203.64" x2="381.5" y2="203.64" stroke="#444" stroke-width="1"/>
<text x="378.10" y="206.39" text-anchor="end" font-size="6.5" fill="#111" stroke="#111" textLength="6.50" lengthAdjust="spacingAndGlyphs">60</text>
<line x1="378.7" y1="184.22" x2="381.5" y2="184.22" stroke="#444" stroke-width="1"/>
<text x="378.10" y="186.97" text-anchor="end" font-size="6.5" fill="#111" stroke="#111" textLength="6.50" lengthAdjust="spacingAndGlyphs">80</text>
<line x1="378.7" y1="164.80" x2="381.5" y2="164.80" stroke="#444" stroke-width="1"/>
<text x="378.10" y="167.55" text-anchor="end" font-size="6.5" fill="#111" stroke="#111" textLength="9.75" lengthAdjust="spacingAndGlyphs">100</text>
<line x1="381.50" y1="261.9" x2="381.50" y2="264.5" stroke="#444" stroke-width="1"/>
<text x="381.50" y="271.60" text-anchor="middle" font-size="6.5" fill="#111" stroke="#111" textLength="3.25" lengthAdjust="spacingAndGlyphs">0</text>
<line x1="400.55" y1="261.9" x2="400.55" y2="264.5" stroke="#444" stroke-width="1"/>
<text x="400.55" y="271.60" text-anchor="middle" font-size="6.5" fill="#111" stroke="#111" textLength="6.50" lengthAdjust="spacingAndGlyphs">20</text>
<line x1="419.60" y1="261.9" x2="419.60" y2="264.5" stroke="#444" stroke-width="1"/>
<text x="419.60" y="271.60" text-anchor="middle" font-size="6.5" fill="#111" stroke="#111" textLength="6.50" lengthAdjust="spacingAndGlyphs">40</text>
<line x1="438.65" y1="261.9" x2="438.65" y2="264.5" stroke="#444" stroke-width="1"/>
<text x="438.65" y="271.60" text-anchor="middle" font-size="6.5" fill="#111" stroke="#111" textLength="6.50" lengthAdjust="spacingAndGlyphs">60</text>
<line x1="457.70" y1="261.9" x2="457.70" y2="264.5" stroke="#444" stroke-width="1"/>
<text x="457.70" y="271.60" text-anchor="middle" font-size="6.5" fill="#111" stroke="#111" textLength="6.50" lengthAdjust="spacingAndGlyphs">80</text>
<line x1="476.75" y1="261.9" x2="476.75" y2="264.5" stroke="#444" stroke-width="1"/>
<text x="476.75" y="271.60" text-anchor="middle" font-size="6.5" fill="#111" stroke="#111" textLength="9.75" lengthAdjust="spacingAndGlyphs">100</text>
<line x1="495.80" y1="261.9" x2="495.80" y2="264.5" stroke="#444" stroke-width="1"/>
<text x="495.80" y="271.60" text-anchor="middle" font-size="6.5" fill="#111" stroke="#111" textLength="9.75" lengthAdjust="spacingAndGlyphs">120</text>
<line x1="514.85" y1="261.9" x2="514.85" y2="264.5" stroke="#444" stroke-width="1"/>
<text x="514.85" y="271.60" text-anchor="middle" font-size="6.5" fill="#111" stroke="#111" textLength="9.75" lengthAdjust="spacingAndGlyphs">140</text>
<text x="447.88" y="281.70" text-anchor="middle" font-size="7.1" fill="#111" stroke="#111" style="stroke-width:0.42px">Months</text>
<text transform="translate(364.80,213.05) rotate(-90)" text-anchor="middle" font-size="7.4" style="stroke-width:0.38px" fill="#111" stroke="#111" textLength="26.0" lengthAdjust="spacingAndGlyphs">OS (%)</text>
<text x="442.70" y="160.89" font-size="7.6" font-weight="bold" fill="#111" stroke="#111" text-anchor="middle" textLength="45.0" lengthAdjust="spacingAndGlyphs">MYC+BCL2+</text>
<path d="M381.50,164.80H383.15V166.80H384.80H385.40V168.65H386.60V170.50H387.20H387.57V172.10H388.30V173.70H389.03V175.30H389.40H389.75V176.87H390.45V178.43H391.15V180.00H391.50H391.85V181.60H392.55V183.20H393.25V184.80H393.60H393.95V186.40H394.65V188.00H395.35V189.60H395.70H396.05V191.20H396.75V192.80H397.45V194.40H397.80H398.30V195.87H399.30V197.33H400.30V198.80H400.80H401.37V200.13H402.50V201.47H403.63V202.80H404.20H405.08V204.23H406.85V205.67H408.62V207.10H409.50H411.10V209.20H412.70H413.65V210.00H414.60H416.00V210.90H418.80V211.80H420.20H421.95V212.20H423.70H424.10V213.50H424.90V214.80H425.70V216.10H426.10H426.58V217.40H427.55V218.70H428.52V220.00H429.00H429.65V221.60H430.95V223.20H432.25V224.80H432.90H434.10V225.75H436.50V226.70H437.70H438.93V227.70H441.38V228.70H442.60H443.95V230.40H445.30" fill="none" stroke="#9b9b9b" stroke-width="1.4" stroke-linejoin="miter" stroke-linecap="butt"/><path d="M445.30,230.40V233.80H469.80" fill="none" stroke="#a0a0a0" stroke-width="1.05" stroke-linejoin="miter" stroke-linecap="butt"/>
<path d="M381.50,164.80H382.18V166.47H383.55V168.13H384.92V169.80H385.60V173.90H388.80H389.00V175.25H389.40V176.60H389.60H389.74V178.09H390.01V179.57H390.28V181.06H390.55V182.54H390.82V184.03H391.09V185.51H391.36V187.00H391.50H391.65V188.50H391.95V190.00H392.25V191.50H392.55V193.00H392.85V194.50H393.15V196.00H393.45V197.50H393.60H393.95V198.93H394.65V200.37H395.35V201.80H395.70H395.84V203.12H396.11V204.45H396.39V205.78H396.66V207.10H396.80H397.06V208.62H397.59V210.15H398.11V211.67H398.64V213.20H398.90H399.70V214.40H401.30V215.60H402.10H402.45V217.33H403.15V219.07H403.85V220.80H404.20H405.25V223.00H406.30H407.90V224.20H409.50H410.02V225.70H411.08V227.20H411.60H412.30V228.45H413.70V229.70H414.40H425.10H425.58V231.15H426.52V232.60H427.00H427.50V233.90H428.50V235.20H429.50V236.50H430.00H430.48V237.95H431.42V239.40H431.90H432.22V240.70H432.88V242.00H433.20H451.20V247.00H460.60H460.80V248.35H461.20V249.70H461.40H462.10V250.40H462.80H463.18V251.90H463.93V253.40H464.30H464.70V255.60H465.10H467.30" fill="none" stroke="#141414" stroke-width="1.2" stroke-linejoin="miter" stroke-linecap="butt"/>
<line x1="449.00" y1="231.60" x2="449.00" y2="234.10" stroke="#9b9b9b" stroke-width="0.8"/><line x1="453.00" y1="231.60" x2="453.00" y2="234.10" stroke="#9b9b9b" stroke-width="0.8"/><line x1="458.50" y1="231.60" x2="458.50" y2="234.10" stroke="#9b9b9b" stroke-width="0.8"/><line x1="462.50" y1="231.60" x2="462.50" y2="234.10" stroke="#9b9b9b" stroke-width="0.8"/><line x1="469.50" y1="231.60" x2="469.50" y2="234.10" stroke="#9b9b9b" stroke-width="0.8"/>
<line x1="443.00" y1="239.80" x2="443.00" y2="242.30" stroke="#141414" stroke-width="0.8"/>
<line x1="467.00" y1="253.40" x2="467.00" y2="255.90" stroke="#141414" stroke-width="0.8"/>
<text x="436.40" y="215.85" font-size="6.8" font-weight="bold" fill="#7c7c7c" stroke="#7c7c7c" text-anchor="start" textLength="73.6" lengthAdjust="spacingAndGlyphs"><tspan font-style="italic">TP53</tspan> wild-type (n=117)</text>
<text x="393.20" y="252.25" font-size="6.8" font-weight="bold" fill="#111" stroke="#111" text-anchor="start" textLength="23.8" lengthAdjust="spacingAndGlyphs">p=.0271</text>
<text x="472.10" y="248.95" font-size="6.8" font-weight="bold" fill="#111" stroke="#111" text-anchor="start" textLength="45.6" lengthAdjust="spacingAndGlyphs"><tspan font-style="italic">TP53</tspan> mutation</text>
<text x="473.10" y="256.85" font-size="6.8" font-weight="bold" fill="#111" stroke="#111" text-anchor="start" textLength="20.2" lengthAdjust="spacingAndGlyphs">(n=40)</text>
</svg>
</body></html>
